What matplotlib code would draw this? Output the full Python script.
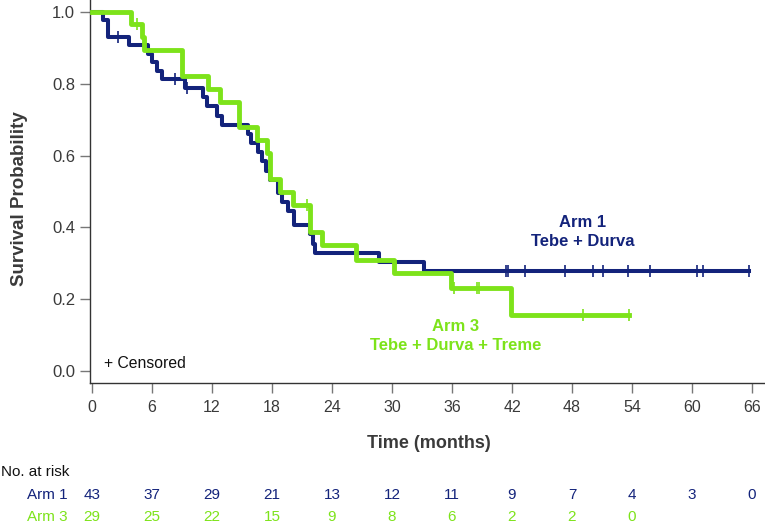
import numpy as np
import matplotlib
matplotlib.use("Agg")
import matplotlib.pyplot as plt
from matplotlib.transforms import blended_transform_factory

plt.rcParams['font.family'] = ['Liberation Sans', 'DejaVu Sans']

# Kaplan-Meier steps (time in months, survival after the step)
arm1_t = [0, 1.1, 1.6, 3.7, 5.6, 6.0, 6.5, 7.0, 9.3, 11.1, 11.5, 12.5, 13.0, 15.6, 15.9,
          16.6, 17.0, 17.4, 17.8, 18.6, 19.0, 19.6, 20.2, 21.8, 22.1, 22.3, 28.7, 33.2]
arm1_s = [1.0, 0.977, 0.930, 0.907, 0.884, 0.860, 0.837, 0.814, 0.789, 0.762, 0.737, 0.711, 0.685, 0.660, 0.634,
          0.609, 0.584, 0.558, 0.533, 0.495, 0.470, 0.445, 0.407, 0.381, 0.354, 0.330, 0.305, 0.279]
arm1_end = 65.7
arm1_cens = [2.6, 8.3, 9.5, 41.4, 41.6, 43.3, 47.3, 50.1, 51.1, 53.6, 55.8, 60.5, 61.1, 65.7]

arm3_t = [0, 3.9, 5.0, 5.2, 9.0, 11.6, 12.8, 14.7, 16.5, 17.5, 17.8, 18.8, 20.1, 21.8, 23.0,
          26.4, 30.2, 35.9, 41.9]
arm3_s = [1.0, 0.966, 0.930, 0.894, 0.822, 0.786, 0.750, 0.680, 0.643, 0.607, 0.535, 0.500, 0.462, 0.388, 0.351,
          0.310, 0.272, 0.232, 0.156]
arm3_end = 53.7
arm3_cens = [4.5, 21.5, 36.2, 38.5, 38.7, 49.1, 53.7]

risk_times = [0, 6, 12, 18, 24, 30, 36, 42, 48, 54, 60, 66]
arm1_risk = [43, 37, 29, 21, 13, 12, 11, 9, 7, 4, 3, 0]
arm3_risk = [29, 25, 22, 15, 9, 8, 6, 2, 2, 0]

navy = '#13237b'
lime = '#7de31a'
grey = '#3a3a3a'


def surv_at(times, surv, x):
    idx = np.searchsorted(times, x, side='right') - 1
    return np.array(surv)[idx]


fig = plt.figure(figsize=(7.65, 5.24), dpi=100)
ax = fig.add_axes([90 / 765, 1 - 383 / 524, 675 / 765, 383 / 524])

# curves
ax.step(arm1_t + [arm1_end], arm1_s + [arm1_s[-1]], where='post', color=navy, lw=2.9, zorder=3)
ax.plot(arm1_cens, surv_at(arm1_t, arm1_s, arm1_cens), ls='none', marker='|',
        ms=8, mew=1.2, color=navy, zorder=3)
ax.step(arm3_t + [arm3_end], arm3_s + [arm3_s[-1]], where='post', color=lime, lw=3.5, zorder=4)
ax.plot(arm3_cens, surv_at(arm3_t, arm3_s, arm3_cens), ls='none', marker='|',
        ms=8, mew=1.2, color=lime, zorder=4)

ax.set_xlim(-0.2, 67.3)
ax.set_ylim(-0.0334, 1.0334)
ax.set_xticks(risk_times)
ax.set_yticks([0.0, 0.2, 0.4, 0.6, 0.8, 1.0])
ax.set_yticklabels(['0.0', '0.2', '0.4', '0.6', '0.8', '1.0'])
ax.tick_params(axis='both', direction='out', length=7.2, width=1, color='#777777',
               labelcolor=grey, labelsize=12)
ax.tick_params(axis='x', pad=5, labelsize=11.5)
ax.tick_params(axis='y', pad=3.5)
for side in ['top', 'right']:
    ax.spines[side].set_visible(False)
for side in ['left', 'bottom']:
    ax.spines[side].set_color('#333333')
    ax.spines[side].set_linewidth(1)

# labels
fig.text(20 / 765, 1 - 199 / 524, 'Survival Probability', rotation=90, ha='center', va='center',
         fontsize=13.5, fontweight='bold', color=grey)
fig.text(429 / 765, 1 - 443 / 524, 'Time (months)', ha='center', va='center',
         fontsize=13, fontweight='bold', color=grey)

ax.text(49.1, 0.387, 'Arm 1\nTebe + Durva', ha='center', va='center', color=navy,
        fontsize=12, fontweight='bold', linespacing=1.35)
ax.text(36.4, 0.097, 'Arm 3\nTebe + Durva + Treme', ha='center', va='center', color=lime,
        fontsize=12, fontweight='bold', linespacing=1.35)
ax.text(1.2, 0.022, '+ Censored', ha='left', va='center', fontsize=11.3, color='#111111')

# number at risk table
tr = blended_transform_factory(ax.transData, fig.transFigure)
fig.text(1 / 765, 1 - 472 / 524, 'No. at risk', ha='left', va='center', fontsize=11, color='#111111')
fig.text(27 / 765, 1 - 495 / 524, 'Arm 1', ha='left', va='center', fontsize=11, color=navy)
fig.text(27 / 765, 1 - 517 / 524, 'Arm 3', ha='left', va='center', fontsize=11, color=lime)
for t, n in zip(risk_times, arm1_risk):
    ax.text(t, 1 - 495 / 524, str(n), transform=tr, ha='center', va='center', fontsize=11,
            color=navy, clip_on=False)
for t, n in zip(risk_times, arm3_risk):
    ax.text(t, 1 - 517 / 524, str(n), transform=tr, ha='center', va='center', fontsize=11,
            color=lime, clip_on=False)

fig.savefig('out.png', dpi=100)
